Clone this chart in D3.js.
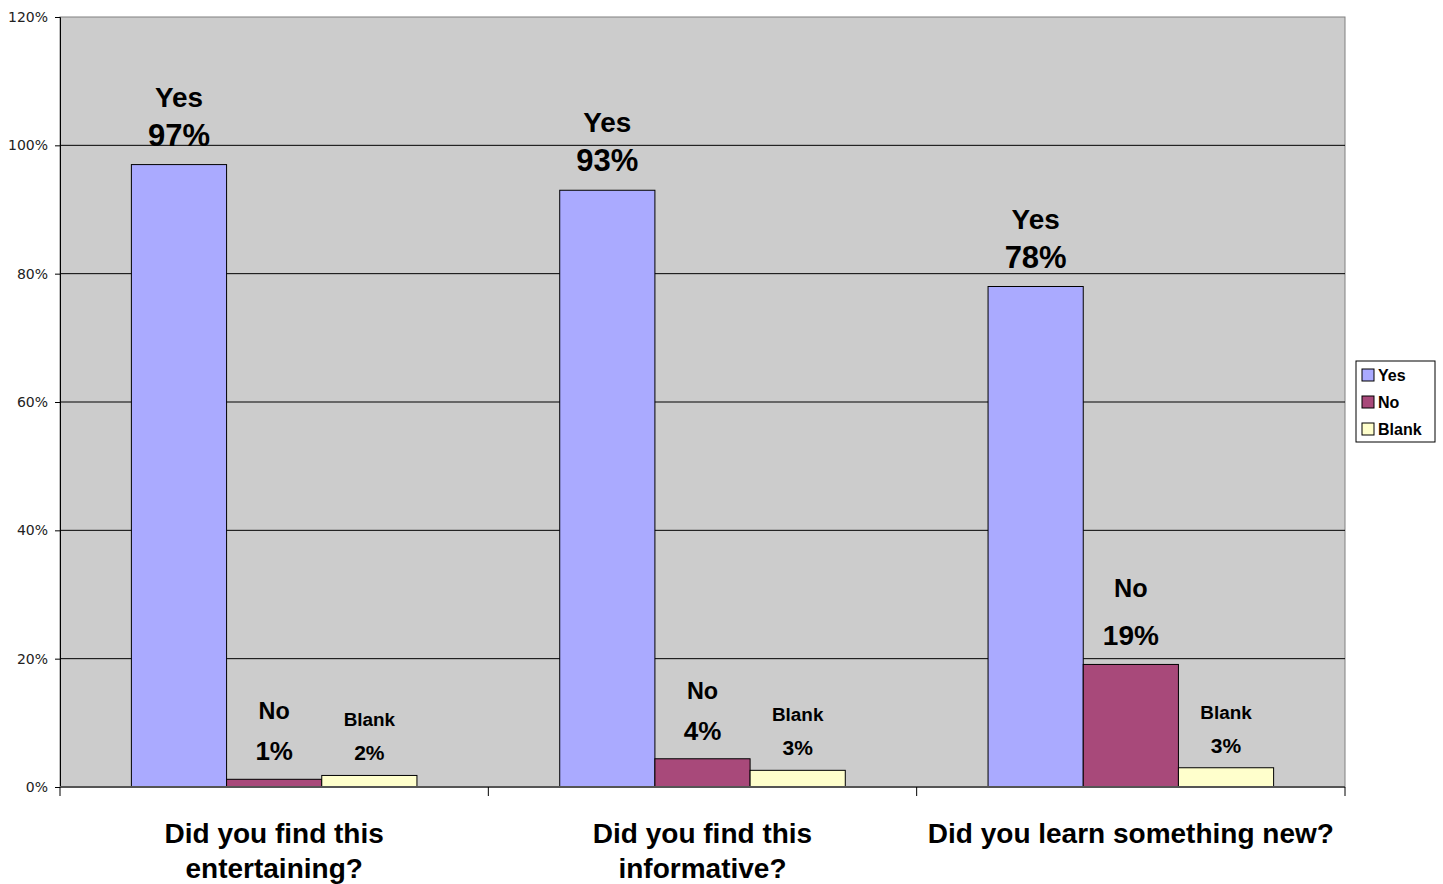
<!DOCTYPE html>
<html lang="en">
<head>
<meta charset="utf-8">
<title>Survey results</title>
<script src="https://d3js.org/d3.v7.min.js"></script>
<style>
  body { margin: 0; background: #fff; }
  svg { display: block; }
  .lbl { font-family: "Liberation Sans", Arial, sans-serif; font-weight: bold; fill: #000; }
  .ytick text { font-family: "DejaVu Sans", Verdana, sans-serif; font-size: 14px; fill: #222; }
</style>
</head>
<body>
<svg width="1443" height="884"></svg>
<script>
// data
const questions = [
  ["Did you find this", "entertaining?"],
  ["Did you find this", "informative?"],
  ["Did you learn something new?"]
];
const seriesNames = ["Yes", "No", "Blank"];
const yesValues = [97, 93, 78];
const noValues = [1.2, 4.4, 19.1];
const blankValues = [1.8, 2.6, 3.0];
const yTicks = [0, 20, 40, 60, 80, 100, 120];

const colors = { Yes: "#aaaaff", No: "#a8497a", Blank: "#ffffcc" };

const svg = d3.select("svg");
const margin = { left: 60, top: 17, right: 98, bottom: 97 };
const W = 1443 - margin.left - margin.right;
const H = 884 - margin.top - margin.bottom;
const g = svg.append("g").attr("transform", `translate(${margin.left},${margin.top})`);

const x0 = d3.scaleBand().domain(d3.range(questions.length)).range([0, W])
  .paddingInner(1 / 3).paddingOuter(1 / 6);
const x1 = d3.scaleBand().domain(seriesNames).range([0, x0.bandwidth()]);
const y = d3.scaleLinear().domain([0, 120]).range([H, 0]);

// plot background
g.append("rect").attr("width", W).attr("height", H)
  .attr("fill", "#cccccc").attr("stroke", "#808080").attr("stroke-width", 1);

// gridlines
g.selectAll(".grid").data(yTicks.slice(1, -1)).enter().append("line")
  .attr("x1", 0).attr("x2", W)
  .attr("y1", d => y(d)).attr("y2", d => y(d))
  .attr("stroke", "#000").attr("stroke-width", 1);

// y axis
const yAxis = g.append("g").attr("class", "ytick")
  .call(d3.axisLeft(y).tickValues(yTicks).tickSize(5).tickPadding(7).tickFormat(d => d + "%"));
yAxis.select(".domain").attr("stroke", "#000");
yAxis.selectAll(".tick line").attr("stroke", "#000");

const rows = questions.map((q, i) => ({
  i, values: [
    { name: "Yes", v: yesValues[i] },
    { name: "No", v: noValues[i] },
    { name: "Blank", v: blankValues[i] }
  ]
}));

const groups = g.selectAll(".grp").data(rows).enter().append("g")
  .attr("transform", d => `translate(${x0(d.i)},0)`);

groups.selectAll("rect").data(d => d.values).enter().append("rect")
  .attr("x", d => x1(d.name))
  .attr("y", d => y(d.v))
  .attr("width", x1.bandwidth())
  .attr("height", d => H - y(d.v))
  .attr("fill", d => colors[d.name])
  .attr("stroke", "#000").attr("stroke-width", 1);

// data labels (series name over the value)
const fontSize = d => d.name === "Yes" ? 31 : d.name === "No" ? (d.v > 10 ? 28 : 26) : 21;
const labs = groups.selectAll(".dl").data(d => d.values).enter().append("g")
  .attr("transform", d => `translate(${x1(d.name) + x1.bandwidth() / 2},${y(d.v) - (d.name === "Blank" ? 15 : 19)})`);
labs.append("text").attr("class", "lbl")
  .attr("text-anchor", "middle")
  .attr("font-size", fontSize)
  .text(d => d3.format(".0f")(d.v) + "%");
labs.append("text").attr("class", "lbl")
  .attr("text-anchor", "middle")
  .attr("font-size", d => fontSize(d) * 0.9)
  .attr("y", d => d.name === "Yes" ? -39 : d.name === "No" ? (d.v > 10 ? -48 : -41) : -34)
  .text(d => d.name);

// x axis with ticks at category boundaries
g.append("line").attr("x1", 0).attr("x2", W).attr("y1", H).attr("y2", H)
  .attr("stroke", "#555").attr("stroke-width", 2);
const step = x0.step();
g.selectAll(".xt").data(d3.range(questions.length + 1)).enter().append("line")
  .attr("x1", d => d * step).attr("x2", d => d * step)
  .attr("y1", H).attr("y2", H + 9)
  .attr("stroke", "#000");

// category labels
const cat = g.selectAll(".cat").data(questions).enter().append("text")
  .attr("class", "lbl").attr("font-size", 28).attr("text-anchor", "middle")
  .attr("transform", (d, i) => `translate(${x0(i) + x0.bandwidth() / 2},${H + 56})`);
cat.selectAll("tspan").data(d => d).enter().append("tspan")
  .attr("x", 0).attr("dy", (d, i) => i === 0 ? 0 : 35).text(d => d);

// legend
const legend = svg.append("g").attr("transform", "translate(1356,361)");
legend.append("rect").attr("width", 79).attr("height", 81)
  .attr("fill", "#fff").attr("stroke", "#000");
const li = legend.selectAll(".li").data(seriesNames).enter().append("g")
  .attr("transform", (d, i) => `translate(6,${8 + i * 27})`);
li.append("rect").attr("width", 12).attr("height", 12)
  .attr("fill", d => colors[d]).attr("stroke", "#000");
li.append("text").attr("class", "lbl").attr("font-size", 16)
  .attr("x", 16).attr("y", 12).text(d => d);
</script>
</body>
</html>
